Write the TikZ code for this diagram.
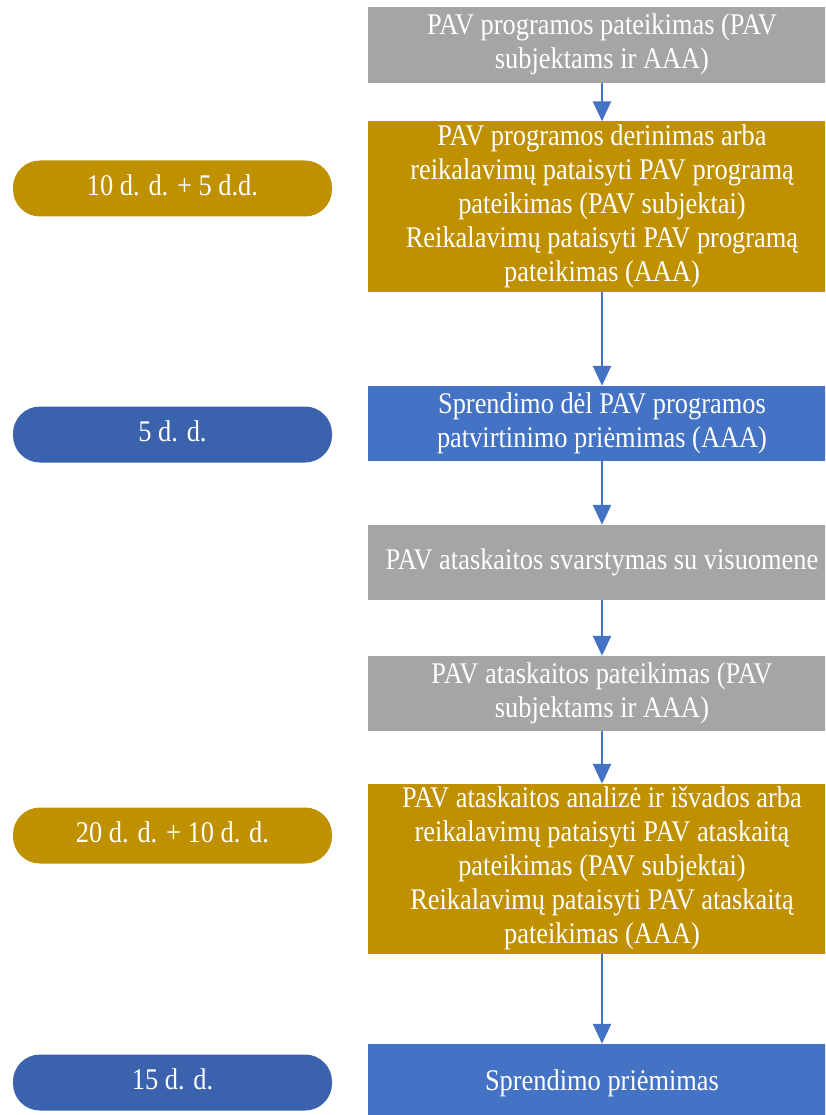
\documentclass[tikz,border=0pt]{standalone}
\usepackage{fontspec}
\usepackage{graphicx}
\setmainfont{Liberation Serif}
\usetikzlibrary{arrows.meta}
\definecolor{boxgray}{HTML}{A5A5A5}
\definecolor{boxgold}{HTML}{BF9000}
\definecolor{boxblue}{HTML}{4472C4}
\definecolor{pillblue}{HTML}{3B63AD}
\definecolor{arrowblue}{HTML}{4472C4}
\newcommand\sqz[1]{\scalebox{0.88}[1]{\begin{tabular}{@{}c@{}}#1\end{tabular}}}
\tikzset{
  stepbox/.style={minimum width=468pt, inner sep=0pt, align=center, text=white,
    font=\rmfamily\fontsize{30}{34}\selectfont},
  pill/.style={minimum width=319pt, minimum height=56pt, inner sep=0pt, rounded corners=27pt,
    text=white, font=\rmfamily\fontsize{30}{34}\selectfont},
  flow/.style={draw=arrowblue, line width=2.6pt, -{Triangle[width=18pt,length=20pt]}},
}
\begin{document}
\begin{tikzpicture}[x=1pt,y=-1pt]
\clip (0,0) rectangle (825,1115);
\fill[white] (0,0) rectangle (825,1115);
% right-hand boxes
\node[stepbox, fill=boxgray, minimum height=76pt] (b1) at (602,45) {\sqz{PAV programos pateikimas (PAV\\subjektams ir AAA)}};
\node[stepbox, fill=boxgold, minimum height=167pt] (b2) at (602,206.5) {\sqz{PAV programos derinimas arba\\reikalavimų pataisyti PAV programą\\pateikimas (PAV subjektai)\\Reikalavimų pataisyti PAV programą\\pateikimas (AAA)}};
\node[stepbox, fill=boxblue, minimum height=75pt] (b3) at (602,423.5) {\sqz{Sprendimo dėl PAV programos\\patvirtinimo priėmimas (AAA)}};
\node[stepbox, fill=boxgray, minimum height=75pt] (b4) at (602,562.5) {\sqz{PAV ataskaitos svarstymas su visuomene}};
\node[stepbox, fill=boxgray, minimum height=75pt] (b5) at (602,693.5) {\sqz{PAV ataskaitos pateikimas (PAV\\subjektams ir AAA)}};
\node[stepbox, fill=boxgold, minimum height=168pt] (b6) at (602,869) {\sqz{PAV ataskaitos analizė ir išvados arba\\reikalavimų pataisyti PAV ataskaitą\\pateikimas (PAV subjektai)\\Reikalavimų pataisyti PAV ataskaitą\\pateikimas (AAA)}};
\node[stepbox, fill=boxblue, minimum height=80pt] (b7) at (602,1084) {\sqz{Sprendimo priėmimas}};
% left-hand pills
\node[pill, fill=boxgold] (p1) at (172.5,188.5) {\sqz{10 d. d. + 5 d.d.}};
\node[pill, fill=pillblue] (p2) at (172.5,434.5) {\sqz{5 d. d.}};
\node[pill, fill=boxgold] (p3) at (172.5,835.5) {\sqz{20 d. d. + 10 d. d.}};
\node[pill, fill=pillblue] (p4) at (172.5,1082.5) {\sqz{15 d. d.}};
% connectors
\draw[flow] (b1) -- (b2);
\draw[flow] (b2) -- (b3);
\draw[flow] (b3) -- (b4);
\draw[flow] (b4) -- (b5);
\draw[flow] (b5) -- (b6);
\draw[flow] (b6) -- (b7);
\end{tikzpicture}
\end{document}
